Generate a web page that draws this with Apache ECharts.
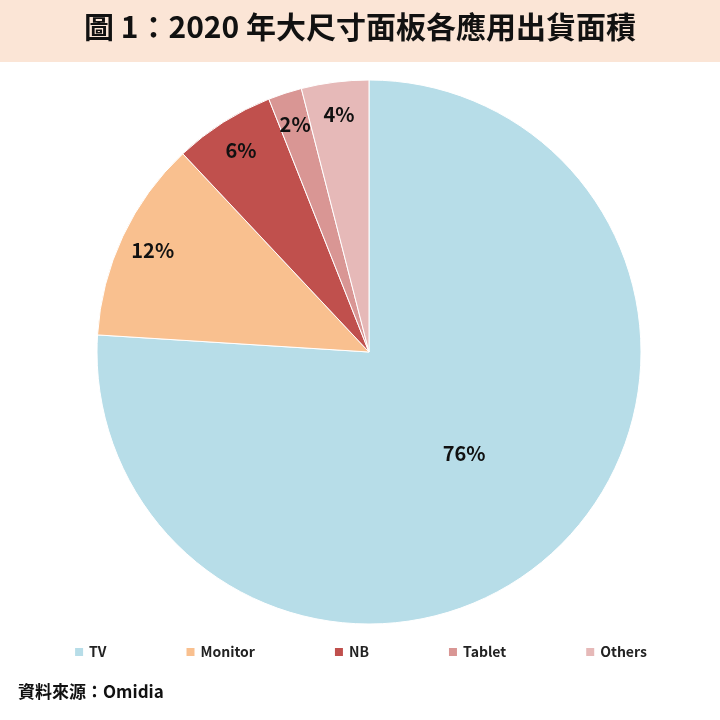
<!DOCTYPE html>
<html>
<head>
<meta charset="utf-8">
<script src="https://cdn.jsdelivr.net/npm/echarts@6/dist/echarts.min.js"></script>
<style>
body{margin:0;background:#fff;}
#chart{width:720px;height:720px;}
</style>
</head>
<body>
<div id="chart"></div>
<script>
var categories = ['TV', 'Monitor', 'NB', 'Tablet', 'Others'];
var shares = [76, 12, 6, 2, 4];
var colors = ['#b7dde8', '#f9c08f', '#c0504d', '#d99694', '#e6b9b8'];

var font = '"Noto Sans CJK TC", "Noto Sans", sans-serif';

function buildData(showIndex) {
    var list = [];
    for (var i = 0; i < categories.length; i++) {
        list.push({
            name: categories[i],
            value: shares[i],
            itemStyle: {color: colors[i]},
            label: {show: showIndex(i)}
        });
    }
    return list;
}

var myChart = echarts.init(document.getElementById('chart'));
var option = {
    animation: false,
    graphic: [{
        type: 'rect',
        shape: {x: 0, y: 0, width: 720, height: 62},
        style: {fill: '#fbe5d6'}
    }, {
        type: 'text',
        left: 'center',
        top: 12,
        style: {text: '圖 1：2020 年大尺寸面板各應用出貨面積', font: 'bold 30px ' + font, fill: '#111'}
    }, {
        type: 'text',
        left: 18,
        top: 683,
        style: {text: '資料來源：Omidia', font: 'bold 17px ' + font, fill: '#111'}
    }],
    legend: {
        bottom: 56,
        left: 'center',
        icon: 'rect',
        itemWidth: 10,
        itemHeight: 10,
        itemGap: 78,
        data: categories,
        textStyle: {fontFamily: font, fontWeight: 'bold', fontSize: 14, color: '#222'}
    },
    series: [{
        type: 'pie',
        center: [369, 352],
        radius: 272,
        startAngle: 90,
        clockwise: true,
        data: buildData(function (i) { return i === 0; }),
        label: {
            position: 'inside',
            formatter: '{c}%',
            fontFamily: font, fontWeight: 'bold', fontSize: 20, color: '#111'
        },
        labelLine: {show: false},
        itemStyle: {borderColor: '#fff', borderWidth: 1}
    }, {
        type: 'pie',
        silent: true,
        center: [369, 352],
        radius: [200, 272],
        startAngle: 90,
        clockwise: true,
        data: buildData(function (i) { return i !== 0; }).map(function (d) {
            d.itemStyle = {color: 'rgba(0,0,0,0)'};
            return d;
        }),
        label: {
            position: 'inside',
            formatter: '{c}%',
            fontFamily: font, fontWeight: 'bold', fontSize: 20, color: '#111'
        },
        labelLine: {show: false}
    }]
};
myChart.setOption(option);
</script>
</body>
</html>
